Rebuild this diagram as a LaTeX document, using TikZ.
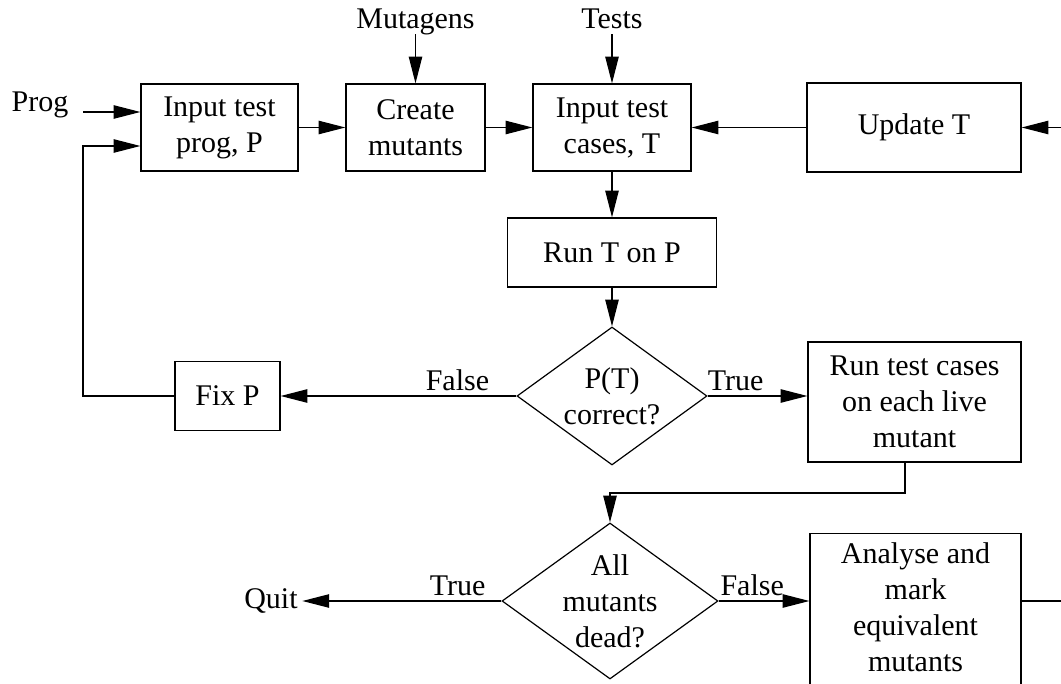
\documentclass[tikz,border=0pt]{standalone}
\usepackage{fontspec}
\setmainfont{Liberation Serif}
\usetikzlibrary{shapes.geometric,arrows.meta}
\begin{document}
\begin{tikzpicture}[x=0.75pt,y=-0.75pt,
        font=\fontsize{22.5}{27}\selectfont,
        box/.style={draw, line width=0.9pt, align=center, inner sep=0pt},
        decision/.style={draw, diamond, line width=0.9pt, align=center, inner sep=0pt, shape aspect=1.38},
        source/.style={inner sep=2pt, text depth=0.22em},
        flow/.style={line width=0.9pt, -{Triangle[length=20pt,width=10pt]}},
        link/.style={line width=0.9pt}]
        \useasboundingbox (0,0) rectangle (1061,684);

        \node (prog) at (40,105) {Prog};
        \node[source] (mutagens) at (415.5,20) {Mutagens};
        \node[source] (tests) at (612,20) {Tests};
        \node (quit) at (271,601) {Quit};

        \node[box, minimum width=117.75pt, minimum height=65.25pt] (inprog) at (219.5,127.5) {Input test\\prog, P};
        \node[box, minimum width=104.25pt, minimum height=65.25pt] (create) at (415.5,127.5) {Create\\mutants};
        \node[box, minimum width=118.5pt, minimum height=65.25pt] (incases) at (612,127.5) {Input test\\cases, T};
        \node[box, minimum width=160.5pt, minimum height=66.75pt] (update) at (914,127.5) {Update T};
        \node[box, minimum width=156.75pt, minimum height=51.75pt] (runtp) at (612,252.5) {Run T on P};
        \node[decision, minimum width=142.5pt, minimum height=103.5pt] (dec1) at (612,396) {P(T)\\correct?};
        \node[box, minimum width=78.75pt, minimum height=51.75pt] (fixp) at (227.5,396) {Fix P};
        \node[box, minimum width=159.75pt, minimum height=90pt] (runall) at (914.5,402) {Run test cases\\on each live\\mutant};
        \node[decision, inner sep=-3pt, minimum width=162pt, minimum height=117pt] (dec2) at (610,601) {All\\mutants\\dead?};
        \node[box, inner sep=7pt, minimum width=158.25pt, text depth=150pt, anchor=north] (analyse) at (915.5,533) {Analyse and\\mark\\equivalent\\mutants};

        \coordinate (progin) at (83,112);
        \coordinate (ret) at (83,146);
        \coordinate (farright) at (1075,127.5);
        \coordinate (joint) at (905,493);
        \coordinate (exitr) at (1075,601);

        % top row
        \draw[flow] (progin) -- (progin -| inprog.west);
        \draw[flow] (inprog) -- (create);
        \draw[flow] (create) -- (incases);
        \draw[flow] (update) -- (incases);
        \draw[flow] (farright) -- (update);
        \draw[flow] (mutagens) -- (create);
        \draw[flow] (tests) -- (incases);

        \draw[flow] (incases) -- (runtp);
        \draw[flow] (runtp) -- (dec1);
        \draw[flow] (dec1) -- node[above, pos=0.25] {False} (fixp);
        \draw[flow] (dec1.east) -- node[above, pos=0.28] {True} (dec1 -| runall.west);
        \draw[flow] (fixp.west) -| (ret) -- (ret -| inprog.west);

        % bottom part
        \draw[flow] (runall.south -| joint) -- (joint) -| (dec2.north);
        \draw[flow] (dec2) -- node[above, pos=0.22] {True} (quit);
        \draw[flow] (dec2.east) -- node[above, pos=0.37] {False} (dec2 -| analyse.west);
        \draw[link] (analyse.east |- exitr) -- (exitr);
\end{tikzpicture}
\end{document}
